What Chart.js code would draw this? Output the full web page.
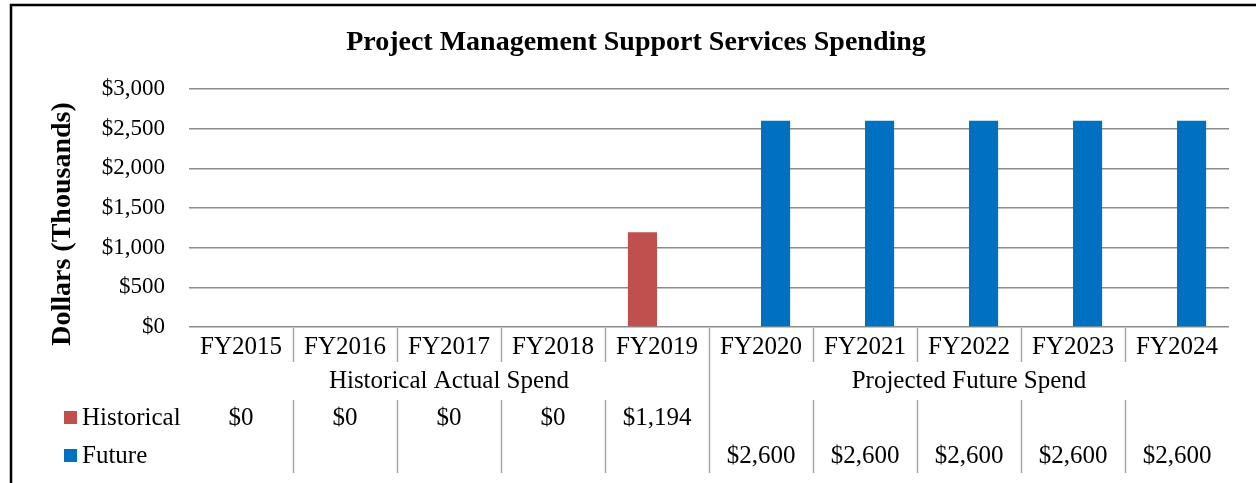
<!DOCTYPE html>
<html>
<head>
<meta charset="utf-8">
<title>Project Management Support Services Spending</title>
<script src="https://cdn.jsdelivr.net/npm/chart.js@4/dist/chart.umd.min.js"></script>
<style>
  body { margin: 0; background: #fff; }
  canvas { display: block; }
</style>
</head>
<body>
<canvas id="chart" width="1256" height="483"></canvas>
<script>
// données (milliers de dollars)
const categories = ['FY2015', 'FY2016', 'FY2017', 'FY2018', 'FY2019', 'FY2020', 'FY2021', 'FY2022', 'FY2023', 'FY2024'];
const historical = [0, 0, 0, 0, 1194, null, null, null, null, null];
const future = [null, null, null, null, null, 2600, 2600, 2600, 2600, 2600];
const groupLabels = ['Historical Actual Spend', 'Projected Future Spend'];
const groupSizes = [5, 5];
const yTicks = [0, 500, 1000, 1500, 2000, 2500, 3000];

const chartTitle = 'Project Management Support Services Spending';
const yTitle = 'Dollars (Thousands)';

const RED = '#C0504D';
const BLUE = '#0070C0';
const FONT = '"Liberation Serif", "Times New Roman", serif';

const money = (v) => '$' + v.toLocaleString('en-US');

// tableau de données sous l'axe (style Excel) + cadre + titres
const tablePlugin = {
    id: 'dataTable',
    afterDraw(chart) {
        const ctx = chart.ctx;
        const x = chart.scales.x;
        const area = chart.chartArea;
        const bottom = area.bottom;
        const half = (x.getPixelForValue(1) - x.getPixelForValue(0)) / 2;
        const edge = (i) => x.getPixelForValue(i) - half;

        ctx.save();

        // cadre
        ctx.strokeStyle = '#000';
        ctx.lineWidth = 2.5;
        ctx.beginPath();
        ctx.moveTo(11, chart.height);
        ctx.lineTo(11, 5);
        ctx.lineTo(chart.width, 5);
        ctx.stroke();

        // titre
        ctx.fillStyle = '#000';
        ctx.textAlign = 'center';
        ctx.textBaseline = 'middle';
        ctx.font = 'bold 28px ' + FONT;
        ctx.fillText(chartTitle, 636, 43);

        // titre de l'axe Y
        ctx.save();
        ctx.translate(63, 224);
        ctx.rotate(-Math.PI / 2);
        ctx.fillText(yTitle, 0, 0);
        ctx.restore();

        // lignes du tableau
        ctx.strokeStyle = '#a6a6a6';
        ctx.lineWidth = 1.5;
        ctx.beginPath();
        for (let i = 1; i < categories.length; i++) {
            const px = Math.round(edge(i)) + 0.5;
            ctx.moveTo(px, bottom + 1);
            ctx.lineTo(px, bottom + 35);
            ctx.moveTo(px, bottom + 73);
            ctx.lineTo(px, bottom + 146);
        }
        let idx = 0;
        for (let g = 0; g < groupSizes.length - 1; g++) {
            idx += groupSizes[g];
            const px = Math.round(edge(idx)) + 0.5;
            ctx.moveTo(px, bottom + 35);
            ctx.lineTo(px, bottom + 73);
        }
        ctx.stroke();

        // libellés de groupes
        ctx.fillStyle = '#000';
        ctx.font = '25px ' + FONT;
        idx = 0;
        groupLabels.forEach((label, g) => {
            const start = edge(idx);
            const end = edge(idx + groupSizes[g]);
            ctx.fillText(label, (start + end) / 2, bottom + 54);
            idx += groupSizes[g];
        });

        // lignes de séries avec légende
        const rows = [
            { label: 'Historical', color: RED, data: historical, y: bottom + 91 },
            { label: 'Future', color: BLUE, data: future, y: bottom + 129 }
        ];
        rows.forEach(row => {
            ctx.fillStyle = row.color;
            ctx.fillRect(64, row.y - 7, 13, 13);
            ctx.fillStyle = '#000';
            ctx.textAlign = 'left';
            ctx.fillText(row.label, 82, row.y);
            ctx.textAlign = 'center';
            row.data.forEach((v, i) => {
                if (v !== null) ctx.fillText(money(v), x.getPixelForValue(i), row.y);
            });
        });

        ctx.restore();
    }
};

new Chart(document.getElementById('chart'), {
    type: 'bar',
    data: {
        labels: categories,
        datasets: [
            { label: 'Historical', data: historical, backgroundColor: RED },
            { label: 'Future', data: future, backgroundColor: BLUE }
        ]
    },
    options: {
        responsive: false,
        animation: false,
        layout: { padding: { left: 0, right: 27, top: 89, bottom: 0 } },
        datasets: { bar: { categoryPercentage: 0.56, barPercentage: 1 } },
        plugins: {
            legend: { display: false },
            title: { display: false },
            tooltip: { enabled: false }
        },
        scales: {
            x: {
                grid: { display: false, drawTicks: false },
                border: { display: false },
                ticks: {
                    color: '#000',
                    font: { family: FONT, size: 25 },
                    padding: 5,
                    maxRotation: 0,
                    autoSkip: false
                },
                afterFit(scale) { scale.height = 156; }
            },
            y: {
                min: 0,
                max: 3000,
                afterBuildTicks(scale) { scale.ticks = yTicks.map(v => ({ value: v })); },
                grid: { color: '#8c8c8c', lineWidth: 1.5, drawTicks: false },
                border: { display: false },
                ticks: {
                    color: '#000',
                    font: { family: FONT, size: 23 },
                    padding: 24,
                    callback: (v) => money(v)
                },
                afterFit(scale) { scale.width = 189; }
            }
        }
    },
    plugins: [tablePlugin]
});
</script>
</body>
</html>
